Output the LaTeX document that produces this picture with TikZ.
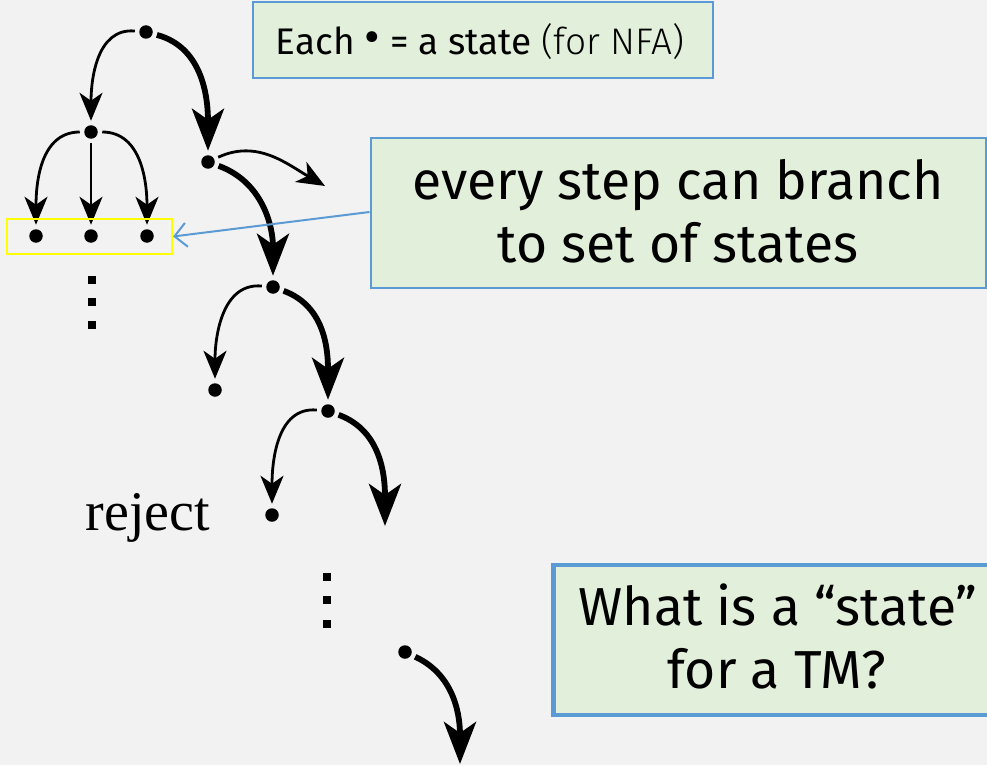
\documentclass[tikz,border=0pt]{standalone}
\usepackage{fontspec}
\setmainfont{Fira Sans}
\newfontfamily\serifface{Liberation Serif}
\IfFontExistsTF{Fira Sans Light}
  {\newfontfamily\lightface{Fira Sans Light}}
  {\newfontfamily\lightface{Fira Sans}}
\usetikzlibrary{arrows.meta}
\definecolor{bg}{HTML}{F2F2F2}
\definecolor{notefill}{HTML}{E2EFDA}
\definecolor{noteline}{HTML}{5B9BD5}
\definecolor{marker}{HTML}{FFFF00}
\begin{document}
\begin{tikzpicture}[x=1pt,y=-1pt,
  dot/.style={circle,fill=black,inner sep=0pt,minimum size=13.5pt,outer sep=4.5pt},
  vdot/.style={rectangle,fill=black,inner sep=0pt,minimum size=7.5pt},
  thinarr/.style={line width=2.8pt,-{Stealth[length=28pt,width=23pt,inset=8pt]}},
  thickarr/.style={line width=5.8pt,-{Stealth[length=42pt,width=32pt,inset=11pt]}},
  note/.style={draw=noteline,fill=notefill,line width=2pt,inner sep=0pt},
  notetext/.style={anchor=base,inner sep=0pt},
  bigfont/.style={font=\fontsize{53.5}{60}\selectfont},
]
% background and extent
\fill[bg] (0,0) rectangle (987,765);
\useasboundingbox (0,0) rectangle (987,765);

% notes (boxes first, one text node per line on top)
\node[note,line width=1.8pt,minimum width=460pt,minimum height=76pt] (n1) at (483,40) {};
\node[notetext,font=\fontsize{37}{44}\selectfont] (n1t) at (480,55)
  {Each \raisebox{1pt}{\fontsize{48}{48}\selectfont\textbullet} = a state {\lightface (for NFA)}};
\node[note,minimum width=615pt,minimum height=150pt] (n2) at (678,213) {};
\node[notetext,bigfont] (n2a) at (678,199) {every step can branch};
\node[notetext,bigfont] (n2b) at (678,262) {to set of states};
\node[note,line width=4.5pt,minimum width=460pt,minimum height=150pt,anchor=west] (n3) at (551,640) {};
\node[notetext,bigfont] (n3a) at (778,625) {What is a “state”};
\node[notetext,bigfont] (n3b) at (777,688) {for a TM?};

% states of the computation tree
\node[dot] (r)  at (146,32) {};
\node[dot] (a)  at (91,132) {};
\node[dot] (b)  at (208,162) {};
\node[dot] (a1) at (36,236) {};
\node[dot] (a2) at (91,236) {};
\node[dot] (a3) at (147,236) {};
\node[dot] (c)  at (273,287) {};
\node[dot] (c1) at (215,390) {};
\node[dot] (d)  at (328,411) {};
\node[dot] (d1) at (272,515) {};
\node[dot] (e)  at (405,652) {};

% open branch ends
\coordinate (bo) at (325,186);
\coordinate (do) at (385,526);
\coordinate (eo) at (460,764);

% vertical ellipses
\node[vdot] (v1) at (92,280) {};
\node[vdot] (v2) at (92,302) {};
\node[vdot] (v3) at (92,325) {};
\node[vdot] (w1) at (327,577) {};
\node[vdot] (w2) at (327,600) {};
\node[vdot] (w3) at (327,624) {};

% branches
\draw[thinarr]  (r) to[out=175,in=90] (a);
\draw[thickarr] (r) to[out=-15,in=90] (b);
\draw[thinarr]  (a) to[out=180,in=90] (a1);
\draw[thinarr]  (a) -- (a2);
\draw[thinarr]  (a) to[out=0,in=90] (a3);
\draw[thinarr]  (b) to[out=25,in=150] (bo);
\draw[thickarr] (b) to[out=-20,in=90] (c);
\draw[thinarr]  (c) to[out=175,in=90] (c1);
\draw[thickarr] (c) to[out=-20,in=90] (d);
\draw[thinarr]  (d) to[out=175,in=90] (d1);
\draw[thickarr] (d) to[out=-20,in=90] (do);
\draw[thickarr] (e) to[out=-25,in=90] (eo);

% label
\node[font=\serifface\fontsize{56}{60}\selectfont,anchor=base] (rej) at (148,530) {reject};

% highlighted set of states
\node[draw=marker,line width=2.2pt,minimum width=165pt,minimum height=35pt,inner sep=0pt] (set) at (89.5,236.5) {};

% pointer from note to highlighted set
\draw[noteline,line width=2pt,-{Straight Barb[length=12pt,width=24pt]}] (n2.west|-0,212) -- (set.east);
\end{tikzpicture}
\end{document}
